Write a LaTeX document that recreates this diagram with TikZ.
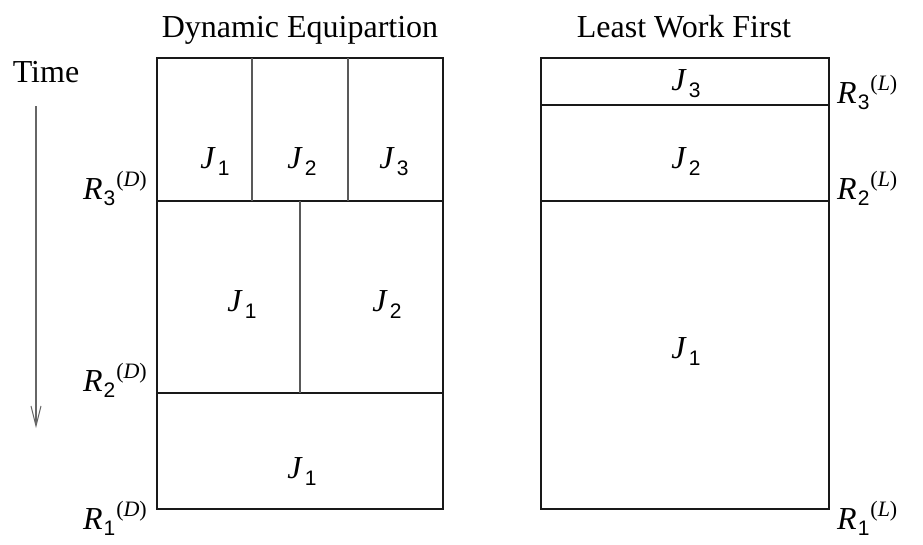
\documentclass[tikz,border=0pt]{standalone}
\usepackage{fontspec}
\setmainfont{Liberation Serif}
\newfontfamily\subsans{Liberation Sans}
\usetikzlibrary{arrows.meta}
\newcommand{\subfnt}{\subsans\fontsize{21}{23}\selectfont}
\newcommand{\supfnt}{\fontsize{22}{24}\selectfont}
\newcommand{\Jlab}[1]{\textit{J}\kern2pt\raisebox{-7pt}{\subfnt #1}}
\newcommand{\Rlab}[2]{\textit{R}\kern1pt\raisebox{-6pt}{\subfnt #1}\kern1pt\raisebox{13pt}{\supfnt(\textit{#2})}}
\begin{document}
\begin{tikzpicture}[x=1pt,y=-1pt,
  font=\fontsize{32}{35}\selectfont,
  outer/.style={draw=black!90,line width=1.1pt},
  inner/.style={draw=black!65,line width=1.1pt},
  lab/.style={inner sep=0pt},
  hd/.style={inner sep=0pt,anchor=base},
  rl/.style={inner sep=0pt,anchor=base west},
  ll/.style={inner sep=0pt,anchor=base east},
  timearrow/.style={draw=black!60,line width=1.1pt,-{Straight Barb[length=20pt,width=10pt,line width=1pt]}}]
\useasboundingbox (0,0) rectangle (923,544);
% headings
\node[hd] (hd) at (300,37) {Dynamic Equipartion};
\node[hd] (hl) at (684,37) {Least Work First};
% time
\node[hd] (time) at (46,82) {Time};
\coordinate (ts) at (36,106);
\coordinate (te) at (36,428);
\draw[timearrow] (ts) -- (te);
% left schedule
\draw[outer] (157,58) rectangle (443,509);
\draw[outer] (157,201) -- (443,201);
\draw[outer] (157,393) -- (443,393);
\draw[inner] (252,58) -- (252,201);
\draw[inner] (348,58) -- (348,201);
\draw[inner] (300,201) -- (300,393);
\node[lab] (dj1a) at (215,162) {\Jlab{1}};
\node[lab] (dj2a) at (302,162) {\Jlab{2}};
\node[lab] (dj3a) at (394,162) {\Jlab{3}};
\node[lab] (dj1b) at (242,305) {\Jlab{1}};
\node[lab] (dj2b) at (387,305) {\Jlab{2}};
\node[lab] (dj1c) at (302,472) {\Jlab{1}};
\node[ll] (dr3) at (147,199) {\Rlab{3}{D}};
\node[ll] (dr2) at (147,391) {\Rlab{2}{D}};
\node[ll] (dr1) at (147,529) {\Rlab{1}{D}};
% right schedule
\draw[outer] (541,58) rectangle (829,509);
\draw[outer] (541,105) -- (829,105);
\draw[outer] (541,201) -- (829,201);
\node[lab] (lj3) at (686,84) {\Jlab{3}};
\node[lab] (lj2) at (686,162) {\Jlab{2}};
\node[lab] (lj1) at (686,352) {\Jlab{1}};
\node[rl] (lr3) at (837,103) {\Rlab{3}{L}};
\node[rl] (lr2) at (837,199) {\Rlab{2}{L}};
\node[rl] (lr1) at (837,529) {\Rlab{1}{L}};
\end{tikzpicture}
\end{document}
